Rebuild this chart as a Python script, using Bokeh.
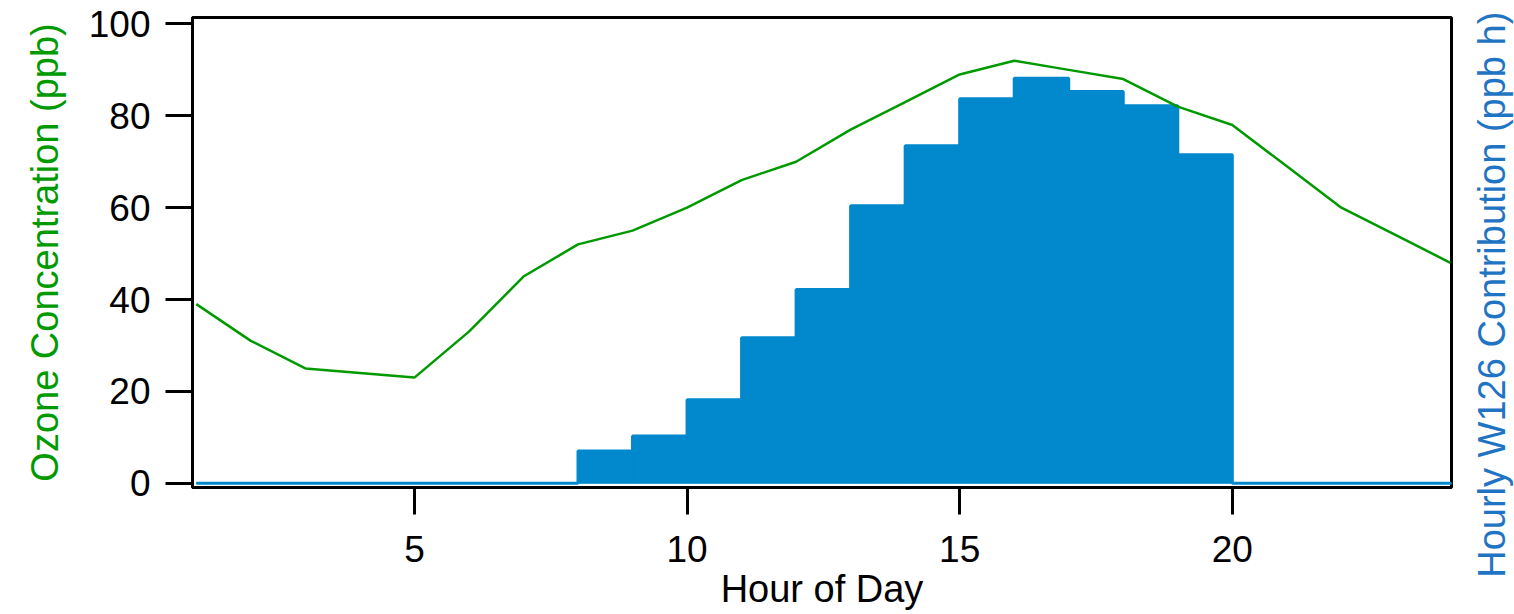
from bokeh.plotting import figure
from bokeh.layouts import row
from bokeh.models import Range1d, FixedTicker
from bokeh.embed import file_html
from bokeh.resources import INLINE

# ---- data ----
hours = list(range(1, 25))
ozone_ppb = [39, 31, 25, 24, 23, 33, 45, 52, 55, 60, 66, 70,
             77, 83, 89, 92, 90, 88, 82, 78, 69, 60, 54, 48]
w126_ppbh = [0, 0, 0, 0, 0, 0, 0, 7.0, 10.3, 18.2, 31.7, 42.2,
             60.4, 73.5, 83.7, 88.2, 85.3, 82.2, 71.5, 0, 0, 0, 0, 0]
x_tick_values = [5, 10, 15, 20]
y_tick_values = [0, 20, 40, 60, 80, 100]
x_title = "Hour of Day"
y_title = "Ozone Concentration (ppb)"
y2_title = "Hourly W126 Contribution (ppb h)"

GREEN = "#009a00"
BAR_BLUE = "#0288cc"
LABEL_BLUE = "#1f74c3"
TICK_FONT = "Liberation Sans"
TITLE_FONT = "Liberation Sans"

MAIN_W, SIDE_W, H = 1456, 58, 614
TOP, BOTTOM = 17, 127

p = figure(width=MAIN_W, height=H, output_backend="svg", toolbar_location=None,
           x_range=Range1d(0.93, 24.02), y_range=Range1d(-0.93, 101.4),
           min_border_left=192, min_border_right=5, min_border_top=TOP,
           min_border_bottom=BOTTOM)
p.background_fill_color = "white"
p.border_fill_color = "white"
p.grid.visible = False
p.outline_line_color = "black"
p.outline_line_width = 3

# bars (W126 hourly contribution), bin h..h+1
lefts = hours
rights = [h + 1 for h in hours]
p.quad(left=lefts, right=rights, bottom=0, top=w126_ppbh,
       fill_color=BAR_BLUE, line_color=BAR_BLUE, line_width=1)
p.step(x=hours + [25], y=w126_ppbh + [0], mode="after",
       line_color=BAR_BLUE, line_width=3)

# ozone line
p.line(hours, ozone_ppb, line_color=GREEN, line_width=2.5)

for ax, ticks in ((p.xaxis[0], x_tick_values), (p.yaxis[0], y_tick_values)):
    ax.ticker = FixedTicker(ticks=ticks)
    ax.axis_line_color = "black"
    ax.axis_line_width = 3
    ax.major_tick_line_color = "black"
    ax.major_tick_line_width = 3
    ax.major_tick_out = 27
    ax.major_tick_in = 0
    ax.minor_tick_line_color = None
    ax.major_label_text_font = TICK_FONT
    ax.major_label_text_font_size = "37px"
    ax.major_label_text_color = "black"
    ax.axis_label_text_font = TITLE_FONT
    ax.axis_label_text_font_size = "38px"
    ax.axis_label_text_font_style = "normal"

xa = p.xaxis[0]
xa.major_label_standoff = 21
xa.axis_label = x_title
xa.axis_label_text_color = "black"
xa.axis_label_standoff = 3

ya = p.yaxis[0]
ya.major_label_standoff = 15
ya.axis_label = y_title
ya.axis_label_text_color = GREEN
ya.axis_label_standoff = 20

# narrow side figure: its (tick-less) left axis carries the secondary-axis title
side = figure(width=SIDE_W, height=H, output_backend="svg", toolbar_location=None,
              x_range=Range1d(0, 1), y_range=Range1d(-0.93, 101.4),
              min_border_left=56, min_border_right=0, min_border_top=TOP,
              min_border_bottom=BOTTOM)
side.grid.visible = False
side.outline_line_color = None
side.background_fill_color = "white"
side.border_fill_color = "white"
side.xaxis.visible = False
sa = side.yaxis[0]
sa.ticker = FixedTicker(ticks=[])
sa.axis_line_color = None
sa.major_tick_out = 0
sa.major_tick_in = 0
sa.minor_tick_line_color = None
sa.major_label_standoff = 0
sa.axis_label = y2_title + "\u00a0" * 8   # trailing no-break spaces push it downward
sa.axis_label_text_font = TITLE_FONT
sa.axis_label_text_font_size = "38px"
sa.axis_label_text_font_style = "normal"
sa.axis_label_text_color = LABEL_BLUE
sa.axis_label_standoff = 0

layout = row(p, side, spacing=0)
open("out.html", "w").write(file_html(layout, INLINE))
